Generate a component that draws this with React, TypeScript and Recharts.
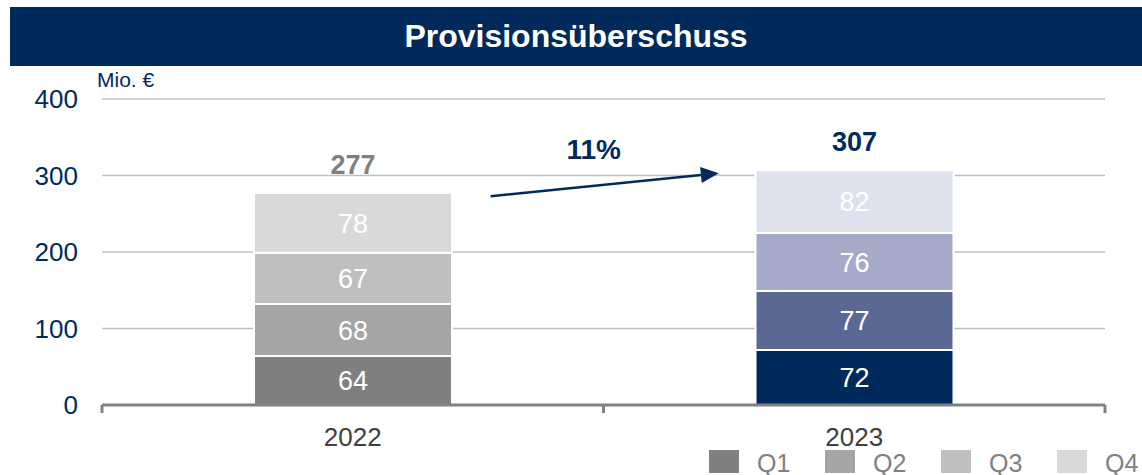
import { BarChart, Bar, XAxis, YAxis, CartesianGrid, Cell, LabelList, ReferenceLine } from 'recharts';

const years = ['2022', '2023'];
const q1 = [64, 72];
const q2 = [68, 77];
const q3 = [67, 76];
const q4 = [78, 82];
const totals = [277, 307];
const growthLabel = '11%';
const quarters = ['Q1', 'Q2', 'Q3', 'Q4'];
const yTicks = [0, 100, 200, 300, 400];

// colours per quarter, one per year
const grey = ['#7f7f7f', '#a5a5a5', '#bfbfbf', '#d9d9d9'];
const blue = ['#002a5c', '#5c6894', '#a6aac9', '#dfe1ee'];
const totalColors = ['#808080', '#002a5c'];

// arrow from 2022 to 2023, in data units (edge axis runs 0..1 over the plot)
const arrowFrom = { x: 0.3875, y: 273 };
const arrowTo = { x: 0.615, y: 303 };

const NAVY = '#002a5c';
const FONT = '"Liberation Sans", Arial, sans-serif';

const data = years.map((year, i) => ({ year, q1: q1[i], q2: q2[i], q3: q3[i], q4: q4[i], total: totals[i] }));
const keys = ['q1', 'q2', 'q3', 'q4'];

const Arrow = (props: any) => {
  const { x1, y1, x2, y2 } = props;
  const ang = Math.atan2(y2 - y1, x2 - x1);
  const len = 18;
  const hw = 8;
  const bx = x2 - len * Math.cos(ang);
  const by = y2 - len * Math.sin(ang);
  const px = -Math.sin(ang) * hw;
  const py = Math.cos(ang) * hw;
  return (
    <g>
      <line x1={x1} y1={y1} x2={bx} y2={by} stroke={NAVY} strokeWidth={2.5} />
      <polygon points={`${x2},${y2} ${bx + px},${by + py} ${bx - px},${by - py}`} fill={NAVY} />
      <text x={(x1 + x2) / 2 - 11} y={(y1 + y2) / 2 - 35} textAnchor="middle" dominantBaseline="central"
        fill={NAVY} fontSize={28} fontWeight="bold" fontFamily={FONT}>{growthLabel}</text>
    </g>
  );
};

const TotalLabel = (props: any) => {
  const { x, y, width, index } = props;
  return (
    <text x={x + width / 2} y={y - 28} textAnchor="middle" dominantBaseline="central"
      fill={totalColors[index]} fontSize={27} fontWeight="bold" fontFamily={FONT}>
      {totals[index]}
    </text>
  );
};

export default function App() {
  return (
    <div style={{ position: 'absolute', left: 0, top: 0, width: 1142, height: 475, overflow: 'hidden', background: '#fff', fontFamily: FONT }}>
      <div style={{
        position: 'absolute', left: 10, top: 7, width: 1132, height: 59, background: NAVY,
        color: '#fff', fontWeight: 'bold', fontSize: 32, display: 'flex', alignItems: 'center', justifyContent: 'center'
      }}>
        Provisionsüberschuss
      </div>
      <div style={{ position: 'absolute', left: 97, top: 68, fontSize: 21, color: NAVY }}>Mio. €</div>
      <div style={{ position: 'absolute', left: 0, top: 0 }}>
        <BarChart width={1142} height={475} data={data} margin={{ top: 99, right: 37, bottom: 40, left: 0 }}>
          <CartesianGrid vertical={false} stroke="#bfbfbf" strokeWidth={1.5} />
          <XAxis xAxisId="b" dataKey="year" height={29} axisLine={false} tickLine={false} tickSize={0} tickMargin={22}
            tick={{ fill: '#404040', fontSize: 26, fontFamily: FONT }} />
          <XAxis xAxisId="a" type="number" domain={[0, 1]} allowDataOverflow ticks={[0, 0.5, 1]} height={1} tickSize={8}
            tickFormatter={() => ''} axisLine={{ stroke: '#808080', strokeWidth: 3 }}
            tickLine={{ stroke: '#808080', strokeWidth: 3 }} />
          <YAxis width={102} domain={[0, 400]} ticks={yTicks} axisLine={false} tickLine={false} tickSize={0} tickMargin={24}
            tick={{ fill: NAVY, fontSize: 26, fontFamily: FONT }} />
          {keys.map((k, qi) => (
            <Bar key={k} xAxisId="b" dataKey={k} stackId="a" barSize={198} stroke="#fff" strokeWidth={2} isAnimationActive={false}>
              {data.map((_, i) => (
                <Cell key={i} fill={i === 0 ? grey[qi] : blue[qi]} />
              ))}
              <LabelList dataKey={k} position="center" fill="#fff" fontSize={27} fontFamily={FONT} />
              {qi === 3 && <LabelList dataKey="total" content={TotalLabel} />}
            </Bar>
          ))}
          <ReferenceLine xAxisId="a" segment={[arrowFrom, arrowTo]} shape={Arrow} ifOverflow="visible" />
        </BarChart>
      </div>
      <div style={{ position: 'absolute', left: 709, top: 449, display: 'flex', alignItems: 'flex-start' }}>
        {quarters.map((q, i) => (
          <div key={q} style={{ display: 'flex', alignItems: 'flex-start', width: i < 3 ? 116 : 90 }}>
            <div style={{ width: 30, height: 23, background: grey[i], marginTop: 1 }} />
            <span style={{ marginLeft: 18, fontSize: 25, color: '#808080', lineHeight: '28px' }}>{q}</span>
          </div>
        ))}
      </div>
    </div>
  );
}
